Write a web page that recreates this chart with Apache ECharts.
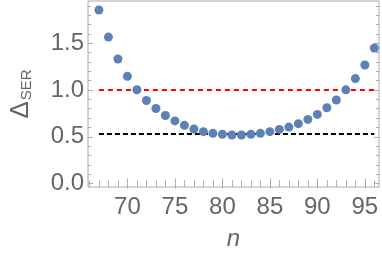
<!DOCTYPE html>
<html>
<head>
<meta charset="utf-8">
<script src="https://cdn.jsdelivr.net/npm/echarts@6/dist/echarts.min.js"></script>
<style>html,body{margin:0;padding:0;background:#fff}#c{width:382px;height:256px}</style>
</head>
<body>
<div id="c"></div>
<script>
const nValues = [67,68,69,70,71,72,73,74,75,76,77,78,79,80,81,82,83,84,85,86,87,88,89,90,91,92,93,94,95,96];
const serValues = [1.856,1.566,1.332,1.146,1.003,0.888,0.803,0.728,0.670,0.622,0.583,0.555,0.537,0.526,0.519,0.519,0.526,0.537,0.555,0.579,0.604,0.640,0.686,0.739,0.810,0.893,1.002,1.122,1.268,1.449];
const redLevel = 1.0;
const blackLevel = 0.53;
const lineRange = [67, 96];
const xMajorTicks = [70,75,80,85,90,95];
const xMinorTicks = [66,67,68,69,71,72,73,74,76,77,78,79,81,82,83,84,86,87,88,89,91,92,93,94,96];
const yMajorTicks = [0.0,0.5,1.0,1.5];
const yMinorTicks = [0.1,0.2,0.3,0.4,0.6,0.7,0.8,0.9,1.1,1.2,1.3,1.4,1.6,1.7,1.8,1.9];

const FRAME = '#aaaaaa';
const LABEL = '#666666';
const FONT = 'Liberation Sans, Arial, sans-serif';
const X_MIN = 65.85, X_MAX = 96.49, Y_MIN = -0.037, Y_MAX = 1.952;

function xAx(pos, ticks, len, labels) {
  return {
    type: 'value', position: pos, min: X_MIN, max: X_MAX,
    axisLine: {show: false}, splitLine: {show: false},
    axisTick: {show: true, inside: true, length: len, customValues: ticks, lineStyle: {color: FRAME, width: 1}},
    axisLabel: labels ? {show: true, customValues: ticks, color: LABEL, fontSize: 24, fontFamily: FONT, margin: 8, formatter: v => String(Math.round(v))} : {show: false}
  };
}
function yAx(pos, ticks, len, labels) {
  return {
    type: 'value', position: pos, min: Y_MIN, max: Y_MAX,
    axisLine: {show: false}, splitLine: {show: false},
    axisTick: {show: true, inside: true, length: len, customValues: ticks, lineStyle: {color: FRAME, width: 1}},
    axisLabel: labels ? {show: true, customValues: ticks, color: LABEL, fontSize: 24, fontFamily: FONT, margin: 4, formatter: v => v.toFixed(1)} : {show: false}
  };
}

const xAxes = [xAx('bottom', xMajorTicks, 5, true), xAx('bottom', xMinorTicks, 3, false), xAx('top', xMajorTicks, 5, false), xAx('top', xMinorTicks, 3, false)];
xAxes[0].name = 'n';
xAxes[0].nameLocation = 'middle';
xAxes[0].nameGap = 40;
xAxes[0].nameTextStyle = {color: LABEL, fontSize: 24, fontStyle: 'italic', fontFamily: FONT};

const yAxes = [yAx('left', yMajorTicks, 5, true), yAx('left', yMinorTicks, 3, false), yAx('right', yMajorTicks, 5, false), yAx('right', yMinorTicks, 3, false)];
yAxes[0].name = '{d|Δ}{s|SER}';
yAxes[0].nameLocation = 'middle';
yAxes[0].nameRotate = 90;
yAxes[0].nameGap = 54;
yAxes[0].nameTextStyle = {color: LABEL, fontFamily: FONT, rich: {
  d: {fontSize: 26, color: LABEL, fontFamily: FONT, verticalAlign: 'bottom'},
  s: {fontSize: 15, color: LABEL, fontFamily: FONT, verticalAlign: 'bottom', padding: [0,0,0,1]}
}};

const chart = echarts.init(document.getElementById('c'), null, {renderer: 'canvas'});
chart.setOption({
  animation: false,
  backgroundColor: '#ffffff',
  grid: {left: 76, right: 3, top: 1, bottom: 68, show: true, borderColor: FRAME, borderWidth: 1, backgroundColor: 'transparent'},
  xAxis: xAxes,
  yAxis: yAxes,
  series: [
    {type: 'line', data: [[lineRange[0], redLevel], [lineRange[1], redLevel]], symbol: 'none', z: 2,
     lineStyle: {color: '#ff0000', width: 2, type: [5, 4]}},
    {type: 'line', data: [[lineRange[0], blackLevel], [lineRange[1], blackLevel]], symbol: 'none', z: 2,
     lineStyle: {color: '#000000', width: 1.8, type: [5, 3]}},
    {type: 'scatter', data: nValues.map((n, i) => [n, serValues[i]]), symbol: 'circle', symbolSize: 9, z: 5,
     itemStyle: {color: '#5E81B5', opacity: 1}}
  ]
});
</script>
</body>
</html>
